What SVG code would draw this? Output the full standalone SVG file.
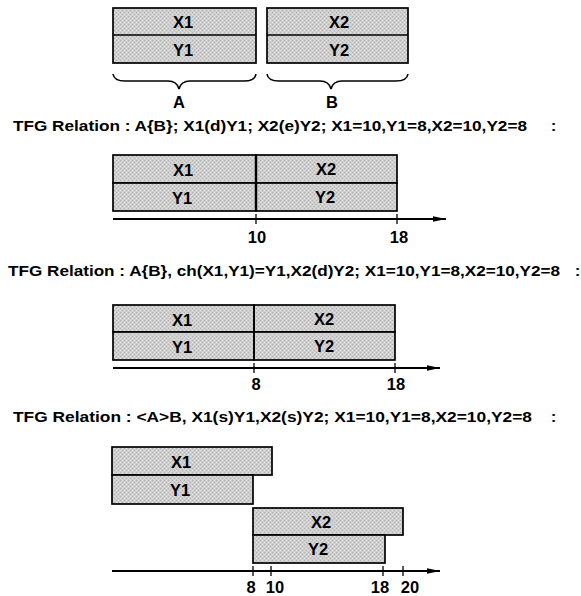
<svg xmlns="http://www.w3.org/2000/svg" width="581" height="596" viewBox="0 0 581 596">
<defs>
<pattern id="dots" width="4" height="4" patternUnits="userSpaceOnUse">
<rect width="4" height="4" fill="#cfcfcf"/>
<rect x="0" y="0" width="1" height="1" fill="#b4b4b4"/>
<rect x="2" y="2" width="1" height="1" fill="#b4b4b4"/>
<rect x="2" y="0" width="1" height="1" fill="#dedede"/>
<rect x="0" y="2" width="1" height="1" fill="#dedede"/>
</pattern>
<marker id="arr" markerWidth="14" markerHeight="8" refX="13" refY="4" orient="auto" markerUnits="userSpaceOnUse">
<path d="M0,1.2 L13,4 L0,6.8 Z" fill="#000"/>
</marker>
</defs>
<style>
.box{fill:url(#dots);stroke:#000;stroke-width:1.7}
.div{stroke:#000;stroke-width:1.5;fill:none}
.vdiv{stroke:#000;stroke-width:2.4;fill:none}
.lbl{font-family:"Liberation Sans",Arial,sans-serif;font-weight:bold;font-size:16.5px;text-anchor:middle;fill:#000}
.num{font-family:"Liberation Sans",Arial,sans-serif;font-weight:bold;font-size:16.5px;text-anchor:middle;fill:#000}
.ttl{font-family:"Liberation Sans",Arial,sans-serif;font-weight:bold;font-size:15.5px;fill:#000}
.axis{stroke:#000;stroke-width:1.8;fill:none}
.tick{stroke:#000;stroke-width:1.3;fill:none}
.brace{stroke:#000;stroke-width:1.6;fill:none}
</style>

<!-- Section 1 -->
<g id="nodeA">
<rect class="box" x="113" y="8" width="143" height="55"/>
<line class="div" x1="113" y1="35" x2="256" y2="35"/>
<text class="lbl" x="183" y="28">X1</text>
<text class="lbl" x="183" y="56">Y1</text>
</g>
<g id="nodeB">
<rect class="box" x="267" y="8" width="141" height="55"/>
<line class="div" x1="267" y1="35" x2="408" y2="35"/>
<text class="lbl" x="339" y="28">X2</text>
<text class="lbl" x="339" y="56">Y2</text>
</g>
<g id="braceA">
<path class="brace" d="M113,74 Q114,81 125,81 L168,81 Q177,81 179,89 Q181,81 190,81 L244,81 Q255,81 256,74"/>
<text class="num" x="179" y="108">A</text>
</g>
<g id="braceB">
<path class="brace" d="M267,74 Q268,81 279,81 L320,81 Q329,81 331,89 Q333,81 342,81 L396,81 Q407,81 408,74"/>
<text class="num" x="332" y="108">B</text>
</g>

<text class="ttl" x="13" y="131" textLength="514" lengthAdjust="spacingAndGlyphs">TFG Relation : A{B}; X1(d)Y1; X2(e)Y2; X1=10,Y1=8,X2=10,Y2=8</text>
<text class="ttl" x="551" y="131">:</text>

<!-- Chart 1 -->
<g id="chart1-X1">
<rect class="box" x="113" y="155" width="143" height="28"/>
<text class="lbl" x="183" y="176">X1</text>
</g>
<g id="chart1-Y1">
<rect class="box" x="113" y="183" width="143" height="28"/>
<text class="lbl" x="182" y="204">Y1</text>
</g>
<g id="chart1-X2">
<rect class="box" x="256" y="155" width="141" height="28"/>
<text class="lbl" x="326" y="175">X2</text>
</g>
<g id="chart1-Y2">
<rect class="box" x="256" y="183" width="141" height="28"/>
<text class="lbl" x="325" y="203">Y2</text>
</g>
<line class="vdiv" x1="256" y1="155" x2="256" y2="211"/>

<!-- Chart 2 -->
<text class="ttl" x="8" y="276" textLength="552" lengthAdjust="spacingAndGlyphs">TFG Relation : A{B}, ch(X1,Y1)=Y1,X2(d)Y2; X1=10,Y1=8,X2=10,Y2=8</text>
<text class="ttl" x="575" y="276">:</text>
<g id="chart2-X1">
<rect class="box" x="113" y="305" width="141" height="27"/>
<text class="lbl" x="182" y="326">X1</text>
</g>
<g id="chart2-Y1">
<rect class="box" x="113" y="332" width="141" height="28"/>
<text class="lbl" x="182" y="353">Y1</text>
</g>
<g id="chart2-X2">
<rect class="box" x="254" y="305" width="141" height="27"/>
<text class="lbl" x="324" y="325">X2</text>
</g>
<g id="chart2-Y2">
<rect class="box" x="254" y="332" width="141" height="28"/>
<text class="lbl" x="324" y="352">Y2</text>
</g>
<line class="vdiv" x1="254" y1="305" x2="254" y2="360" style="stroke-width:2"/>

<!-- Chart 3 -->
<text class="ttl" x="13" y="422" textLength="519" lengthAdjust="spacingAndGlyphs">TFG Relation : &lt;A&gt;B, X1(s)Y1,X2(s)Y2; X1=10,Y1=8,X2=10,Y2=8</text>
<text class="ttl" x="551" y="422">:</text>
<g id="chart3-X1">
<rect class="box" x="112" y="447" width="160" height="28"/>
<text class="lbl" x="181" y="468">X1</text>
</g>
<g id="chart3-Y1">
<rect class="box" x="112" y="475" width="141" height="29"/>
<text class="lbl" x="180" y="496">Y1</text>
</g>
<g id="chart3-X2">
<rect class="box" x="253" y="508" width="150" height="27"/>
<text class="lbl" x="321" y="528">X2</text>
</g>
<g id="chart3-Y2">
<rect class="box" x="253" y="535" width="132" height="28"/>
<text class="lbl" x="318" y="555">Y2</text>
</g>

<g id="connectors">
<line class="axis" x1="113" y1="219" x2="446" y2="219" marker-end="url(#arr)"/>
<line class="tick" x1="256" y1="214" x2="256" y2="224"/>
<line class="tick" x1="397" y1="214" x2="397" y2="224"/>
<line class="axis" x1="113" y1="368" x2="440" y2="368" marker-end="url(#arr)"/>
<line class="tick" x1="254" y1="363" x2="254" y2="373"/>
<line class="tick" x1="395" y1="363" x2="395" y2="373"/>
<line class="axis" x1="112" y1="571" x2="440" y2="571" marker-end="url(#arr)"/>
<line class="tick" x1="253" y1="566" x2="253" y2="576"/>
<line class="tick" x1="271" y1="566" x2="271" y2="576"/>
<line class="tick" x1="383" y1="566" x2="383" y2="576"/>
<line class="tick" x1="403" y1="566" x2="403" y2="576"/>
</g>

<g id="axis-labels">
<text class="num" x="257" y="243">10</text>
<text class="num" x="399" y="243">18</text>
<text class="num" x="256" y="390">8</text>
<text class="num" x="396" y="390">18</text>
<text class="num" x="251" y="593">8</text>
<text class="num" x="275" y="593">10</text>
<text class="num" x="380" y="593">18</text>
<text class="num" x="410" y="593">20</text>
</g>
</svg>
